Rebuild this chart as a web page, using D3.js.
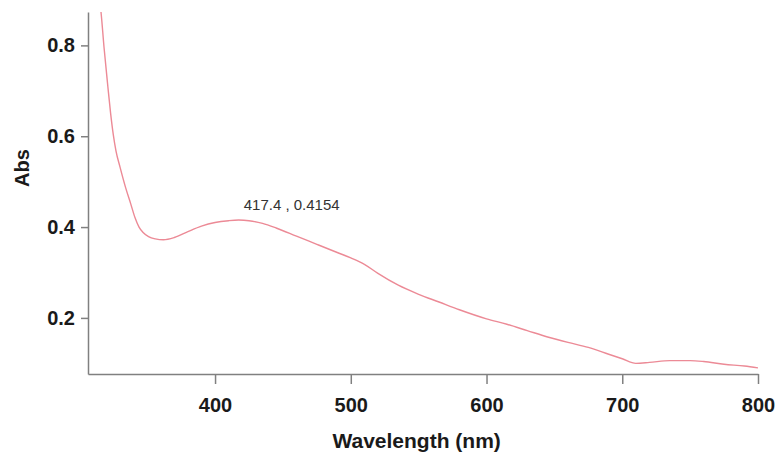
<!DOCTYPE html>
<html>
<head>
<meta charset="utf-8">
<script src="https://cdn.jsdelivr.net/npm/d3@7"></script>
<style>
  body { margin: 0; background: #fff; }
  svg { display: block; font-family: "Liberation Sans", Arial, sans-serif; }
  .axis path, .axis line { stroke: #808080; stroke-width: 1.5; }
  .axis text { font-size: 20px; font-weight: bold; fill: #1a1a1a; }
</style>
</head>
<body>
<svg id="chart" width="778" height="455"></svg>
<script>
// spectrum (nm, absorbance)
const wavelength = [306, 312, 316, 318.2, 321, 323, 325, 327, 330, 334, 338, 341, 344, 347, 351, 356, 362, 370, 380, 390, 400, 410, 417.4, 425, 435, 445, 460, 475, 490, 500, 510, 520, 535, 550, 565, 580, 600, 615, 630, 645, 660, 675, 690, 700, 710, 720, 735, 750, 760, 775, 790, 800];
const absorbance = [1.06, 0.95, 0.873, 0.796, 0.71, 0.652, 0.604, 0.568, 0.532, 0.488, 0.45, 0.421, 0.40, 0.388, 0.379, 0.374, 0.372, 0.377, 0.39, 0.402, 0.41, 0.414, 0.4154, 0.414, 0.408, 0.398, 0.38, 0.362, 0.344, 0.332, 0.318, 0.298, 0.272, 0.252, 0.235, 0.218, 0.198, 0.186, 0.172, 0.158, 0.146, 0.135, 0.12, 0.11, 0.1, 0.102, 0.106, 0.106, 0.104, 0.098, 0.094, 0.09];
const xTicks = [400, 500, 600, 700, 800];
const yTicks = [0.2, 0.4, 0.6, 0.8];
const peakLabel = "417.4 , 0.4154";
const peak = [417.4, 0.4154];

const svg = d3.select("#chart");
const margin = { top: 12, right: 20, bottom: 81, left: 88 };
const width = 778, height = 455;

const x = d3.scaleLinear().domain([306.4, 800]).range([margin.left, width - margin.right]);
const y = d3.scaleLinear().domain([0.0765, 0.8735]).range([height - margin.bottom, margin.top]);

// clip so the steep UV rise is cut at the top of the plot
svg.append("clipPath").attr("id", "plot")
  .append("rect")
  .attr("x", margin.left).attr("y", margin.top)
  .attr("width", width - margin.right - margin.left)
  .attr("height", height - margin.bottom - margin.top);

const points = wavelength.map((w, i) => [w, absorbance[i]]);
const line = d3.line()
  .x(d => x(d[0]))
  .y(d => y(d[1]))
  .curve(d3.curveMonotoneX);

svg.append("path")
  .datum(points)
  .attr("clip-path", "url(#plot)")
  .attr("fill", "none")
  .attr("stroke", "#ec8a96")
  .attr("stroke-width", 1.4)
  .attr("d", line);

// axes
const xAxis = d3.axisBottom(x).tickValues(xTicks).tickSize(10).tickPadding(14).tickSizeOuter(0);
svg.append("g")
  .attr("class", "axis")
  .attr("transform", `translate(0,${height - margin.bottom})`)
  .call(xAxis);

const yAxis = d3.axisLeft(y).tickValues(yTicks).tickSize(7).tickPadding(6).tickFormat(d3.format(".1f")).tickSizeOuter(0);
svg.append("g")
  .attr("class", "axis")
  .attr("transform", `translate(${margin.left},0)`)
  .call(yAxis);

// axis titles
svg.append("text")
  .attr("x", x(550) - 2)
  .attr("y", 448)
  .attr("text-anchor", "middle")
  .style("font-size", "21px")
  .style("font-weight", "bold")
  .style("fill", "#1a1a1a")
  .text("Wavelength (nm)");

svg.append("text")
  .attr("transform", `translate(29,168) rotate(-90)`)
  .attr("text-anchor", "middle")
  .style("font-size", "20px")
  .style("font-weight", "bold")
  .style("fill", "#1a1a1a")
  .text("Abs");

// peak annotation
svg.append("text")
  .attr("x", x(peak[0]) + 53)
  .attr("y", y(peak[1]) - 10)
  .attr("text-anchor", "middle")
  .style("font-size", "15px")
  .style("fill", "#333")
  .text(peakLabel);
</script>
</body>
</html>
